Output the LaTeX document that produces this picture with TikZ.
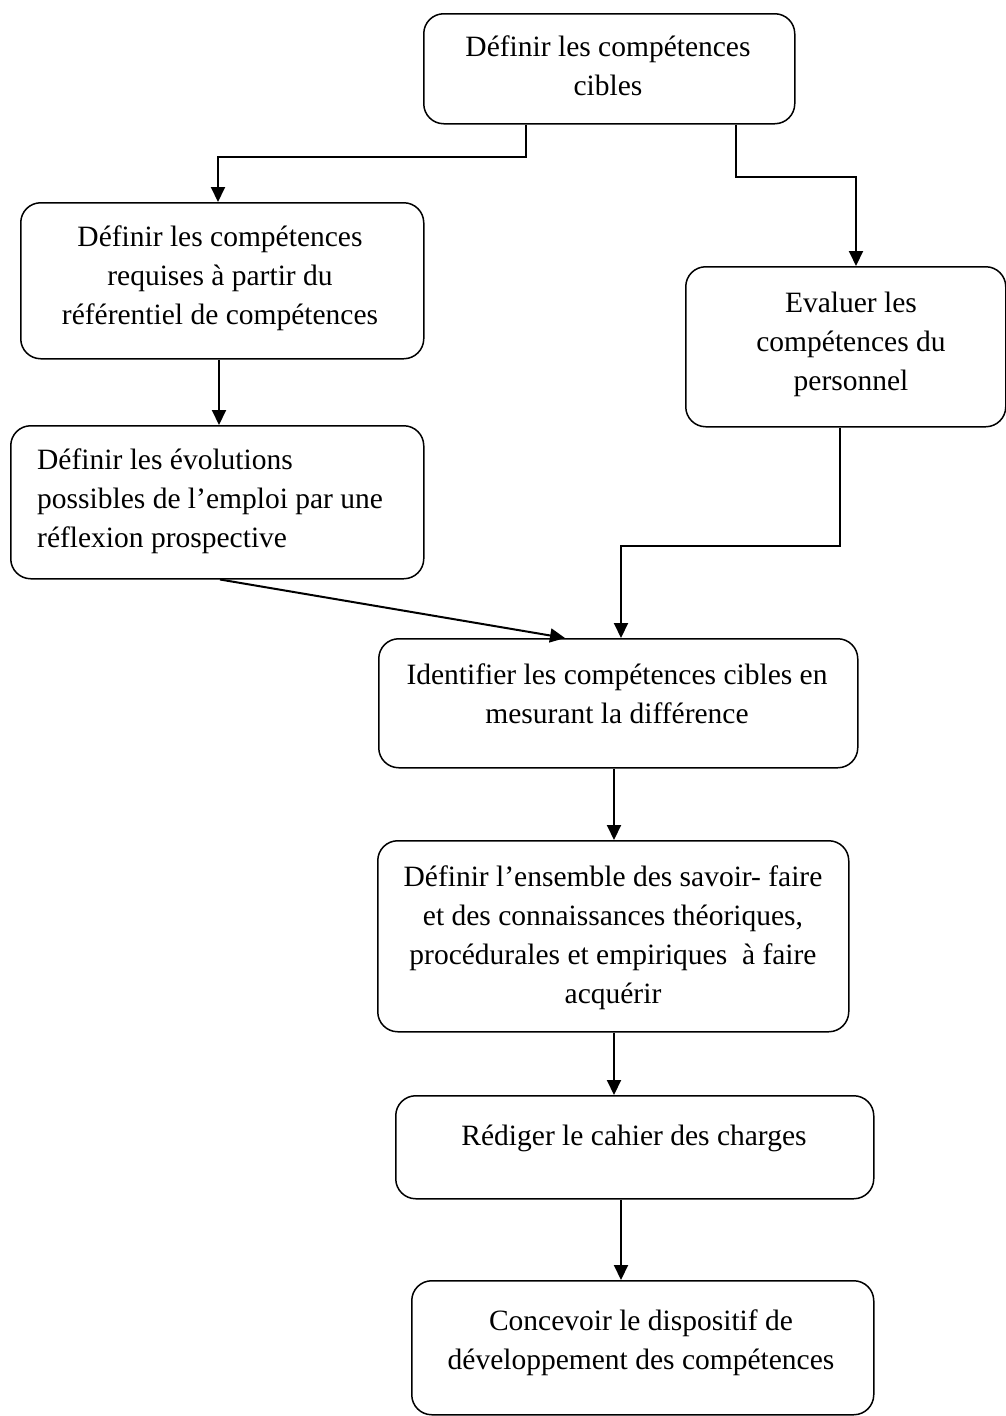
\documentclass[tikz,border=0pt]{standalone}
\usepackage{fontspec}
\setmainfont{Liberation Serif}
\usetikzlibrary{arrows.meta}

\begin{document}
\begin{tikzpicture}[x=1pt,y=-1pt,
  box/.style={draw, line width=1.5pt, rounded corners=20pt, inner sep=0pt, anchor=north west},
  txt/.style={inner sep=0pt, font=\fontsize{29.5}{38.7}\selectfont, execute at begin node=\strut},
  ctxt/.style={txt, anchor=north, align=center},
  ltxt/.style={txt, anchor=north west, align=left},
  arr/.style={line width=2pt, -{Triangle[length=15pt,width=14pt]}}]

  \useasboundingbox (0,0) rectangle (1006,1416);

  % boxes
  \node[box, minimum width=371pt, minimum height=110pt] (b1) at (423,13) {};
  \node[box, minimum width=403pt, minimum height=156pt] (b2) at (20,202) {};
  \node[box, minimum width=320pt, minimum height=160pt] (b3) at (685,266) {};
  \node[box, minimum width=413pt, minimum height=153pt] (b4) at (10,425) {};
  \node[box, minimum width=479pt, minimum height=129pt] (b5) at (378,638) {};
  \node[box, minimum width=471pt, minimum height=191pt] (b6) at (377,840) {};
  \node[box, minimum width=478pt, minimum height=103pt] (b7) at (395,1095) {};
  \node[box, minimum width=462pt, minimum height=134pt] (b8) at (411,1280) {};

  % texts
  \node[ctxt] (t1) at (608,36) {Définir les compétences\\cibles};
  \node[ctxt] (t2) at (220,226) {Définir les compétences\\requises à partir du\\référentiel de compétences};
  \node[ctxt] (t3) at (851,292) {Evaluer les\\compétences du\\personnel};
  \node[ltxt] (t4) at (37,449) {Définir les évolutions\\possibles de l’emploi par une\\réflexion prospective};
  \node[ctxt] (t5) at (617,664) {Identifier les compétences cibles en\\mesurant la différence};
  \node[ctxt] (t6) at (613,866) {Définir l’ensemble des savoir- faire\\et des connaissances théoriques,\\procédurales et empiriques~ à faire\\acquérir};
  \node[ctxt] (t7) at (634,1118) {Rédiger le cahier des charges};
  \node[ctxt] (t8) at (641,1310) {Concevoir le dispositif de\\développement des compétences};

  % routing points
  \coordinate (j1) at (526,157);
  \coordinate (j2) at (218,157);
  \coordinate (k1) at (736,177);
  \coordinate (k2) at (856,177);
  \coordinate (m1) at (840,546);
  \coordinate (m2) at (621,546);
  \coordinate (d1) at (220,578);
  \coordinate (d2) at (565,638);
  \coordinate (v1) at (219,0);
  \coordinate (v2) at (614,0);
  \coordinate (v3) at (621,0);

  % connectors
  \draw[arr] (b1.south -| j1) -- (j1) -- (j2) -- (b2.north -| j2);
  \draw[arr] (b1.south -| k1) -- (k1) -- (k2) -- (b3.north -| k2);
  \draw[arr] (b2.south -| v1) -- (b4.north -| v1);
  \draw[arr] (b3.south -| m1) -- (m1) -- (m2) -- (b5.north -| m2);
  \draw[arr] (b4.south -| d1) -- (b5.north -| d2);
  \draw[arr] (b5.south -| v2) -- (b6.north -| v2);
  \draw[arr] (b6.south -| v2) -- (b7.north -| v2);
  \draw[arr] (b7.south -| v3) -- (b8.north -| v3);
\end{tikzpicture}
\end{document}
